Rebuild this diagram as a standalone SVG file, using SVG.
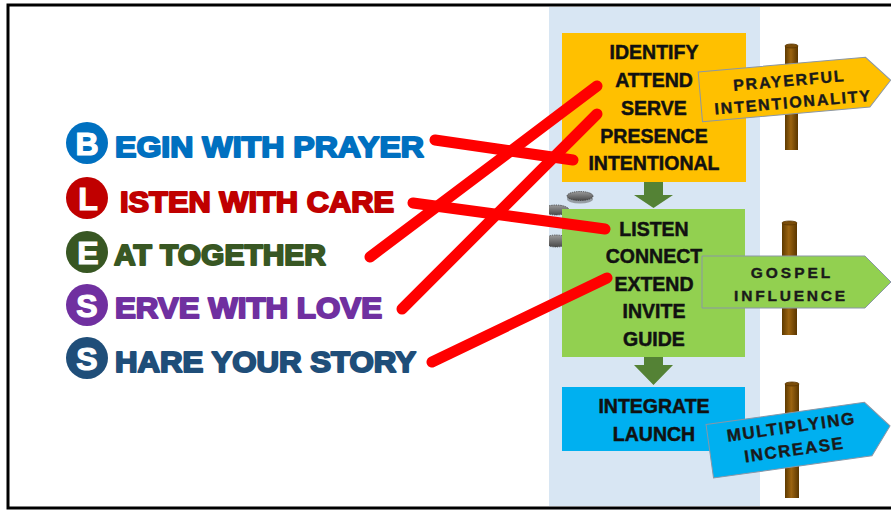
<svg xmlns="http://www.w3.org/2000/svg" width="891" height="511" viewBox="0 0 891 511">
<defs>
<linearGradient id="post" x1="0" y1="0" x2="1" y2="0">
<stop offset="0" stop-color="#5E3A00"/>
<stop offset="0.45" stop-color="#9C6410"/>
<stop offset="1" stop-color="#5A3600"/>
</linearGradient>
<linearGradient id="disc" x1="0" y1="0" x2="0" y2="1">
<stop offset="0" stop-color="#9A9A9A"/>
<stop offset="1" stop-color="#4A4A4A"/>
</linearGradient>
</defs>
<style>
.lt{font-family:"Liberation Sans",Arial,sans-serif;font-weight:bold;font-size:30px;stroke-width:2px;stroke-linejoin:round;}
.cl{font-family:"Liberation Sans",Arial,sans-serif;font-weight:bold;font-size:32px;fill:#fff;text-anchor:middle;stroke:#fff;stroke-width:1.2px;}
.bx{font-family:"Liberation Sans",Arial,sans-serif;font-weight:bold;font-size:19.5px;fill:#111;stroke:#111;stroke-width:0.5px;text-anchor:middle;}
.sg{font-family:"Liberation Sans",Arial,sans-serif;font-weight:bold;font-size:16px;fill:#1a1a1a;stroke:#1a1a1a;stroke-width:0.4px;text-anchor:middle;letter-spacing:1.8px;}
.red{stroke:#FF0000;stroke-width:11;stroke-linecap:round;fill:none;}
.ar{fill:#548235;}
.post{fill:url(#post);}
.cap{fill:#7A4C08;stroke:#5A3600;stroke-width:0.8;}
.dsc{fill:url(#disc);stroke:#333;stroke-width:0.8;stroke-dasharray:1.2 1;}
</style>
<rect x="0" y="0" width="891" height="511" fill="#fff"/>
<rect id="panel" x="549" y="7" width="211" height="499" fill="#D8E6F3"/>
<g id="discs">
<ellipse cx="580" cy="199" rx="13" ry="4.5" fill="#555" opacity="0.5"/>
<ellipse class="dsc" cx="580" cy="196" rx="13" ry="4.5"/>
<ellipse class="dsc" cx="556" cy="210" rx="13" ry="5"/>
<ellipse class="dsc" cx="556" cy="241" rx="13" ry="6"/>
<rect x="536" y="195" width="13" height="60" fill="#fff"/>
</g>
<g id="box-orange">
<rect x="562" y="33" width="184" height="149" fill="#FFC000"/>
<text class="bx" x="654" y="59">IDENTIFY</text>
<text class="bx" x="654" y="87">ATTEND</text>
<text class="bx" x="654" y="115">SERVE</text>
<text class="bx" x="654" y="143">PRESENCE</text>
<text class="bx" x="654" y="170">INTENTIONAL</text>
</g>
<g id="box-green">
<rect x="562" y="209" width="183" height="148" fill="#92D050"/>
<text class="bx" x="654" y="236">LISTEN</text>
<text class="bx" x="654" y="263">CONNECT</text>
<text class="bx" x="654" y="291">EXTEND</text>
<text class="bx" x="654" y="318">INVITE</text>
<text class="bx" x="654" y="346">GUIDE</text>
</g>
<g id="box-blue">
<rect x="562" y="387" width="183" height="64" fill="#00B0F0"/>
<text class="bx" x="654" y="413">INTEGRATE</text>
<text class="bx" x="654" y="441">LAUNCH</text>
</g>
<g id="flow-arrows">
<polygon class="ar" points="644,182 663,182 663,195 673,195 653.5,208 634,195 644,195"/>
<polygon class="ar" points="644,357 663,357 663,365 673,365 653.5,385 634,365 644,365"/>
</g>
<g id="sign-prayerful">
<rect class="post" x="785" y="46" width="13" height="104"/>
<ellipse class="cap" cx="791.5" cy="46" rx="6.5" ry="2"/>
<g transform="rotate(-5 790 89)">
<polygon points="700,64 868,64 891,89 868,114 700,114" fill="#FFC000" stroke="#8a96a6" stroke-width="1"/>
<text class="sg" x="790" y="86">PRAYERFUL</text>
<text class="sg" x="792" y="108">INTENTIONALITY</text>
</g>
</g>
<g id="sign-gospel">
<rect class="post" x="782" y="223" width="15" height="112"/>
<ellipse class="cap" cx="789.5" cy="223" rx="7.5" ry="2"/>
<polygon points="702,256 865,256 891,282 865,308 702,308" fill="#92D050" stroke="#8a96a6" stroke-width="1"/>
<text class="sg" x="792" y="278" style="font-size:15.5px;letter-spacing:3px">GOSPEL</text>
<text class="sg" x="791" y="301" style="font-size:15.5px;letter-spacing:2.8px">INFLUENCE</text>
</g>
<g id="sign-multiplying">
<rect class="post" x="785" y="384" width="14" height="114"/>
<ellipse class="cap" cx="792" cy="384" rx="7" ry="2"/>
<g transform="rotate(-8 790 440)">
<polygon points="709,413 869,413 891,440 869,467 709,467" fill="#00B0F0" stroke="#8a96a6" stroke-width="1"/>
<text class="sg" x="793" y="433" style="font-size:17px;letter-spacing:1.6px">MULTIPLYING</text>
<text class="sg" x="793" y="456" style="font-size:17px;letter-spacing:1.6px">INCREASE</text>
</g>
</g>
<g id="bless-B">
<circle cx="87" cy="143" r="21" fill="#0070C0"/>
<text class="cl" x="87" y="154.5">B</text>
<text class="lt" x="115" y="157" fill="#0070C0" stroke="#0070C0" textLength="309" lengthAdjust="spacingAndGlyphs">EGIN WITH PRAYER</text>
</g>
<g id="bless-L">
<circle cx="87" cy="198" r="21" fill="#C00000"/>
<text class="cl" x="88" y="209.5">L</text>
<text class="lt" x="120" y="212" fill="#C00000" stroke="#C00000" textLength="274" lengthAdjust="spacingAndGlyphs">ISTEN WITH CARE</text>
</g>
<g id="bless-E">
<circle cx="87" cy="252" r="21" fill="#385723"/>
<text class="cl" x="88" y="263.5">E</text>
<text class="lt" x="114" y="265" fill="#385723" stroke="#385723" textLength="212" lengthAdjust="spacingAndGlyphs">AT TOGETHER</text>
</g>
<g id="bless-S1">
<circle cx="87" cy="305" r="21" fill="#7030A0"/>
<text class="cl" x="87" y="316.5">S</text>
<text class="lt" x="115" y="318" fill="#7030A0" stroke="#7030A0" textLength="267" lengthAdjust="spacingAndGlyphs">ERVE WITH LOVE</text>
</g>
<g id="bless-S2">
<circle cx="87" cy="358" r="21" fill="#1F4E79"/>
<text class="cl" x="87" y="369.5">S</text>
<text class="lt" x="115" y="372" fill="#1F4E79" stroke="#1F4E79" textLength="301" lengthAdjust="spacingAndGlyphs">HARE YOUR STORY</text>
</g>
<g id="connectors">
<line class="red" x1="435" y1="140" x2="573" y2="160"/>
<line class="red" x1="413" y1="203" x2="605" y2="229"/>
<line class="red" x1="370" y1="257" x2="597" y2="86"/>
<line class="red" x1="402" y1="309" x2="597" y2="114"/>
<line class="red" x1="432" y1="362" x2="607" y2="278"/>
</g>
<rect id="frame" x="8" y="5" width="895" height="503" fill="none" stroke="#000" stroke-width="3"/>
</svg>
